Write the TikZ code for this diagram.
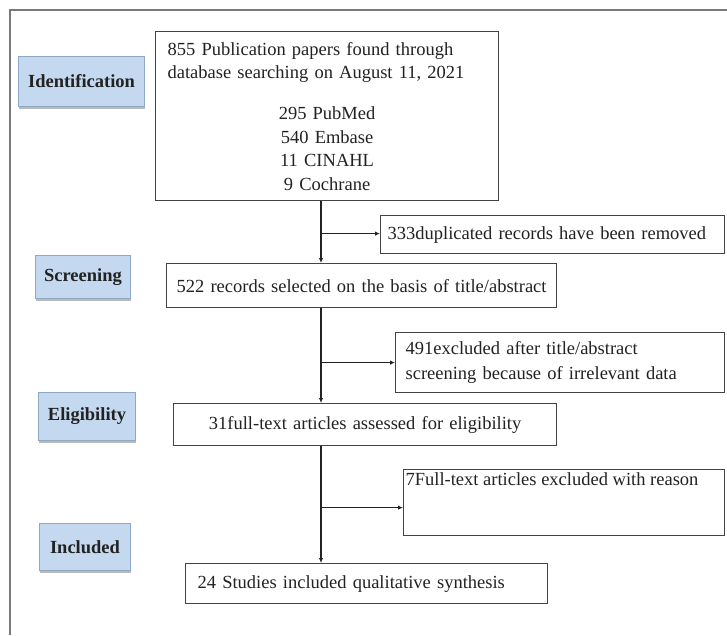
\documentclass[tikz,border=0pt]{standalone}
\usepackage{fontspec}
\setmainfont{Liberation Serif}
\usetikzlibrary{arrows.meta,shadows,calc}
\definecolor{lblfill}{HTML}{C4D9EF}
\definecolor{lblborder}{HTML}{8FA9C4}
\definecolor{framec}{HTML}{7A7A7A}
\definecolor{ink}{HTML}{222222}
\tikzset{
  boxc/.style={draw=ink!85, line width=1.2pt, fill=white, text=ink, anchor=north west,
    font=\fontsize{18.5}{23.5}\selectfont, inner ysep=0pt},
  lbl/.style={draw=lblborder, line width=1pt, fill=lblfill, text=ink, anchor=north west,
    font=\fontsize{18.5}{22}\selectfont\bfseries, inner sep=0pt, align=center,
    drop shadow={shadow xshift=0.8pt, shadow yshift=-2.5pt, fill=black!45, opacity=0.6}},
  flow/.style={draw=ink, line width=1.2pt, -{Latex[length=5pt,width=4.5pt]}}
}
\begin{document}
\begin{tikzpicture}[x=1pt,y=-1pt]
\useasboundingbox (0,0) rectangle (727,635);
% frame
\draw[framec, line width=2pt] (727,10) -- (10,10) -- (10,635);

% stage labels
\node[lbl, minimum width=126pt, minimum height=50pt] (idL) at (18,56) {Identification};
\node[lbl, minimum width=95pt, minimum height=43pt] (scrL) at (35,255) {Screening};
\node[lbl, minimum width=97pt, minimum height=48pt] (eliL) at (38,392) {Eligibility};
\node[lbl, minimum width=91pt, minimum height=47pt] (incL) at (39,523) {Included};

% main boxes
\node[boxc, inner xsep=12pt, text width=319pt, minimum height=169pt] (top) at (155,31)
  {\raggedright 855 Publication papers found through\\database searching on August 11, 2021\par
   \vspace{17.5pt}\centering 295 PubMed\\540 Embase\\11 CINAHL\\9 Cochrane\par};
\node[boxc, inner xsep=7pt, text width=330pt, minimum height=38pt, align=left] (b333) at (380,215)
  {333duplicated records have been removed};
\node[boxc, inner xsep=0pt, text width=390pt, minimum height=44pt, align=center] (b522) at (166,263)
  {522 records selected on the basis of title/abstract};
\node[boxc, inner xsep=10pt, text width=309pt, minimum height=60pt, align=left,
      font=\fontsize{18.5}{25}\selectfont] (b491) at (395,332)
  {491excluded after title/abstract\\screening because of irrelevant data};
\node[boxc, inner xsep=0pt, text width=383pt, minimum height=42pt, align=center] (b31) at (173,403)
  {31full-text articles assessed for eligibility};
\node[boxc, inner xsep=2pt, inner ysep=3pt] (b7) at (403,469)
  {\parbox[t][60pt][t]{317pt}{7Full-text articles excluded with reason}};
\node[boxc, inner xsep=12pt, text width=338pt, minimum height=40pt, align=left] (b24) at (185,563)
  {24 Studies included qualitative synthesis};

% connectors
\coordinate (xl) at (321,0);
\draw[flow] (top.south -| xl) -- (b522.north -| xl);
\draw[flow] (b522.south -| xl) -- (b31.north -| xl);
\draw[flow] (b31.south -| xl) -- (b24.north -| xl);
\draw[flow] ($(b333.west -| xl)+(0,-1)$) -- ($(b333.west)+(0,-1)$);
\draw[flow] (b491.west -| xl) -- (b491.west);
\draw[flow] ($(b7.west -| xl)+(0,5)$) -- ($(b7.west)+(0,5)$);
\end{tikzpicture}
\end{document}
